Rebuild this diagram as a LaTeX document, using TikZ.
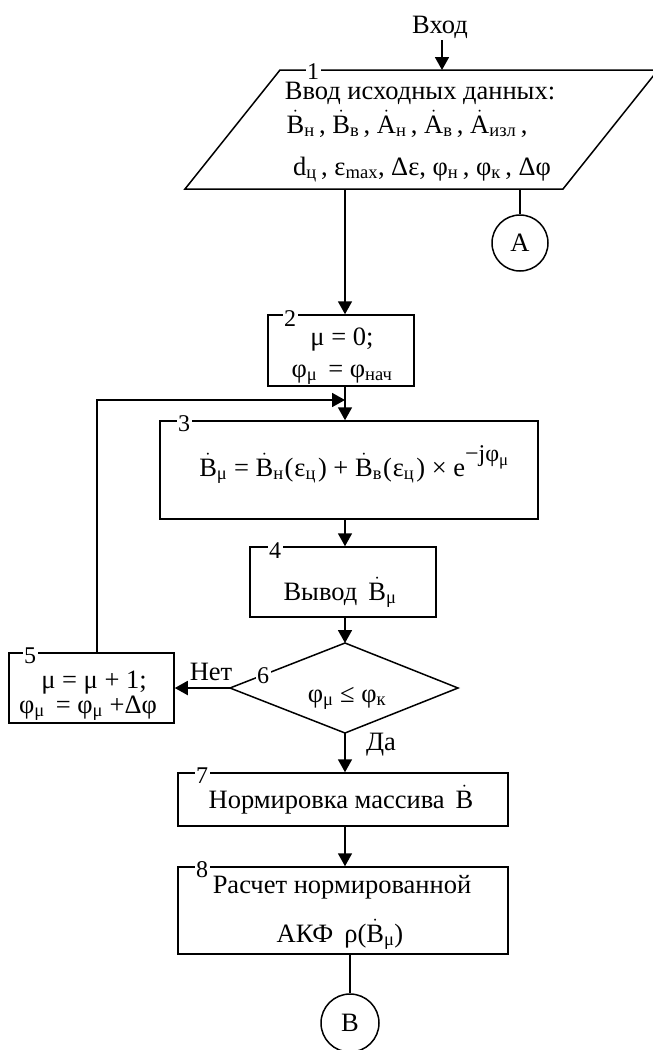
\documentclass[tikz,border=0pt]{standalone}
\usepackage{fontspec}
\setmainfont{Liberation Serif}
\usetikzlibrary{arrows.meta}
\newcommand\dt[1]{$\dot{\hbox{#1}}$}
\newcommand\sbs[1]{\textsubscript{#1}}
\tikzset{
  box/.style={draw, line width=1.5pt, rectangle, inner sep=0pt},
  conn/.style={line width=1.8pt, -{Triangle[length=13pt,width=14pt]}},
  plain/.style={line width=1.5pt},
  num/.style={fill=white, inner sep=1.5pt, font=\fontsize{24}{28}\selectfont},
  txt/.style={inner sep=0pt, anchor=base}
}
\begin{document}
\begin{tikzpicture}[x=1pt,y=-1pt,font=\fontsize{26.5}{30}\selectfont]
\useasboundingbox (0,0) rectangle (653,1050);
% entry
\node[txt] (vhod) at (440,33) {Вход};
\coordinate (vs) at (442,40);
\coordinate (p1in) at (442,70);
\coordinate (p1out) at (345,189);
\coordinate (p1A) at (520,189);
\draw[conn] (vs) -- (p1in);
% block 1 (parallelogram)
\draw[plain] (185,189) -- (280,70) -- (658,70) -- (563,189) -- cycle;
\node[num] (n1) at (313,72) {1};
\node[txt] (t1a) at (420,99) {Ввод исходных данных:};
\node[txt] (t1b) at (407,133) {\dt{B}\sbs{н}\,, \dt{B}\sbs{в}\,, \dt{A}\sbs{н}\,, \dt{A}\sbs{в}\,, \dt{A}\sbs{изл}\,,};
\node[txt] (t1c) at (422,175) {d\sbs{ц}\,, ε\sbs{max}, Δε, φ\sbs{н}\,, φ\sbs{к}\,, Δφ};
% connector A
\node[draw, circle, line width=1.5pt, minimum size=56pt, inner sep=0pt] (A) at (520,243) {A};
\draw[plain] (p1A) -- (A.north);
% block 2
\node[box, minimum width=146pt, minimum height=71pt] (b2) at (341,350.5) {};
\node[num] (n2) at (290,319) {2};
\node[txt] (t2a) at (342,345) {μ = 0;};
\node[txt] (t2b) at (342,377) {φ\sbs{μ} \,= φ\sbs{нач}};
\draw[conn] (p1out) -- (b2.north -| p1out);
% junction
\coordinate (j23) at (345,400);
\coordinate (loopx) at (97,0);
% block 3
\node[box, minimum width=378pt, minimum height=98pt] (b3) at (349,470) {};
\node[txt] (t3) at (354,476) {\dt{B}\sbs{μ} = \dt{B}\sbs{н}\kern1pt(\kern1ptε\sbs{ц}\kern2pt) + \dt{B}\sbs{в}\kern1pt(\kern1ptε\sbs{ц}\kern2pt) × e\raisebox{0.55em}{\fontsize{24}{26}\selectfont −jφ\sbs{μ}}};
\node[num] (n3) at (184,424) {3};
\draw[conn] (b2.south -| j23) -- (b3.north -| j23);
% block 4
\node[box, minimum width=186pt, minimum height=70pt] (b4) at (343,582) {};
\node[txt] (t4) at (340,600) {Вывод \,\dt{B}\sbs{μ}};
\node[num] (n4) at (275,551) {4};
\draw[conn] (b3.south -| j23) -- (b4.north -| j23);
% block 6 decision
\coordinate (d6t) at (345,643);
\coordinate (d6r) at (458,688);
\coordinate (d6b) at (345,733);
\coordinate (d6l) at (230,688);
\draw[plain] (d6t) -- (d6r) -- (d6b) -- (d6l) -- cycle;
\node[txt] (t6) at (347,702) {φ\sbs{μ} ≤ φ\sbs{к}};
\node[num] (n6) at (263,676) {6};
\draw[conn] (b4.south -| j23) -- (d6t);
% block 5
\node[box, minimum width=165pt, minimum height=70pt] (b5) at (91.5,688) {};
\node[txt] (t5a) at (94,688) {μ = μ + 1;};
\node[txt] (t5b) at (88,713) {φ\sbs{μ} \,= φ\sbs{μ} +Δφ};
\node[num] (n5) at (30,656) {5};
\draw[conn] (d6l) -- (b5.east);
\node[txt] (net) at (211,680) {Нет};
% loop back
\draw[conn] (b5.north -| loopx) |- (j23);
% block 7
\node[box, minimum width=330pt, minimum height=53pt] (b7) at (343,799.5) {};
\node[txt] (t7) at (341,808) {Нормировка массива \,\dt{B}};
\node[num] (n7) at (202,776) {7};
\draw[conn] (d6b) -- (b7.north -| d6b);
\node[txt] (da) at (381,750) {Да};
% block 8
\node[box, minimum width=330pt, minimum height=87pt] (b8) at (343,910.5) {};
\node[txt] (t8a) at (342,893) {Расчет нормированной};
\node[txt] (t8b) at (340,942) {АКФ \,ρ(\dt{B}\sbs{μ})};
\node[num] (n8) at (202,870) {8};
\draw[conn] (b7.south -| j23) -- (b8.north -| j23);
% connector B
\node[draw, circle, line width=1.5pt, minimum size=58pt, inner sep=0pt] (B) at (350,1023) {B};
\draw[plain] (b8.south -| B) -- (B.north);
\end{tikzpicture}
\end{document}
